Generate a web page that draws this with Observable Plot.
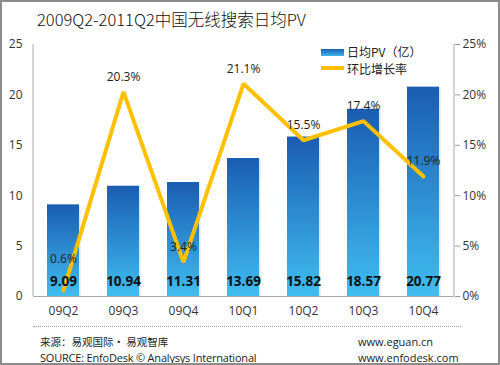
<!DOCTYPE html>
<html><head><meta charset="utf-8">
<script src="https://cdn.jsdelivr.net/npm/d3@7"></script>
<script src="https://cdn.jsdelivr.net/npm/@observablehq/plot@0.6"></script>
<style>
html,body{margin:0;padding:0;background:#fff;}
#wrap{position:relative;width:500px;height:365px;overflow:hidden;font-family:"Noto Sans CJK SC","Noto Sans",sans-serif;color:#222;}
#frame{position:absolute;left:0;top:0;width:496px;height:361px;border:2px solid #8c8c8c;pointer-events:none;}
#title{position:absolute;left:37px;top:7px;font-size:16.5px;color:#111;white-space:nowrap;font-weight:300;}
#chart{position:absolute;left:0;top:0;}
.leg{position:absolute;font-size:12px;white-space:nowrap;color:#222;}
#foot div{position:absolute;font-size:11px;white-space:nowrap;color:#222;}
#dots{position:absolute;left:33px;top:326px;width:428px;border-top:1px dotted #999;}
</style></head>
<body>
<div id="wrap">
  <div id="chart"></div>
  <div id="title">2009Q2-2011Q2中国无线搜索日均PV</div>
  <div class="leg" style="left:321px;top:49px;width:23px;height:7px;background:linear-gradient(#1a5fb4,#3fb8ec);"></div>
  <div class="leg" style="left:347px;top:43px;">日均PV（亿）</div>
  <div class="leg" style="left:321px;top:66px;width:23px;height:4px;background:#FFC000;"></div>
  <div class="leg" style="left:347px;top:60px;">环比增长率</div>
  <div id="dots"></div>
  <div id="foot">
    <div style="left:40px;top:334px;font-size:10.5px;">来源：易观国际· 易观智库</div>
    <div style="left:40px;top:350px;font-family:'Open Sans',sans-serif;letter-spacing:-0.2px;">SOURCE: EnfoDesk © Analysys International</div>
    <div style="left:358px;top:334px;font-family:'Open Sans',sans-serif;">www.eguan.cn</div>
    <div style="left:358px;top:350px;font-family:'Open Sans',sans-serif;">www.enfodesk.com</div>
  </div>
  <div id="frame"></div>
</div>
<script>
const categories = ["09Q2","09Q3","09Q4","10Q1","10Q2","10Q3","10Q4"];
const pvValues = [9.09,10.94,11.31,13.69,15.82,18.57,20.77];
const growthPct = [0.6,20.3,3.4,21.1,15.5,17.4,11.9];
const leftTicks = [0,5,10,15,20,25];
const rightTicks = [0,5,10,15,20,25];

const data = categories.map((c,i)=>({q:c, pv:pvValues[i], g:growthPct[i]}));
const lowLabel = data.filter(d=>d.g < 2);
const highLabel = data.filter(d=>d.g >= 2);

const font = "'Open Sans', 'Noto Sans', sans-serif";
const plot = Plot.plot({
  width: 500, height: 365,
  marginLeft: 33, marginRight: 46, marginTop: 44, marginBottom: 69,
  style: {fontFamily: font, fontSize: "12px", color: "#333", background: "transparent"},
  x: {domain: categories, paddingInner: 0.46, paddingOuter: 0.23, label: null},
  y: {domain: [0,25], label: null},
  marks: [
    Plot.barY(data, {x:"q", y:"pv", dx:1.5, dy:1, fillOpacity:0.15, fill:"#555"}),
    Plot.barY(data, {x:"q", y:"pv", fill:"url(#barGrad)"}),
    Plot.ruleY([0], {stroke:"#aaa"}),
    Plot.axisY({ticks:leftTicks, anchor:"left", tickSize:0, tickPadding:11, fontSize:12, label:null}),
    Plot.axisY({ticks:rightTicks, anchor:"right", tickSize:5, tickPadding:3, tickFormat:d=>d+"%", fontSize:12, label:null, stroke:"#999"}),
    Plot.axisX({tickSize:0, tickPadding:10, fontSize:12, label:null}),
    Plot.line(data, {x:"q", y:"g", stroke:"#FFC000", strokeWidth:4, strokeLinejoin:"miter"}),
    Plot.text(data, {x:"q", y:0, text:d=>d.pv.toFixed(2), dy:-15, fontSize:13.5, fontWeight:"bold", fill:"#111"}),
    Plot.text(highLabel, {x:"q", y:"g", text:d=>d.g.toFixed(1)+"%", dy:-15, fontSize:12, fill:"#222"}),
    Plot.text(lowLabel, {x:"q", y:"g", text:d=>d.g.toFixed(1)+"%", dy:-31, fontSize:12, fill:"#222"})
  ]
});
const svg = d3.select(plot);
const defs = svg.insert("defs", ":first-child");
const g = defs.append("linearGradient").attr("id","barGrad").attr("x1",0).attr("y1",0).attr("x2",0).attr("y2",1);
g.append("stop").attr("offset","0%").attr("stop-color","#1a5db2");
g.append("stop").attr("offset","100%").attr("stop-color","#40bdf0");
// vertical axis lines at both ends of the x range
const xr = plot.scale("x").range, yr = plot.scale("y").range;
for (const xv of xr) {
  svg.append("line").attr("x1",xv).attr("x2",xv).attr("y1",yr[0]).attr("y2",yr[1]).attr("stroke","#aaa");
}
document.getElementById("chart").appendChild(plot);
</script>
</body></html>
